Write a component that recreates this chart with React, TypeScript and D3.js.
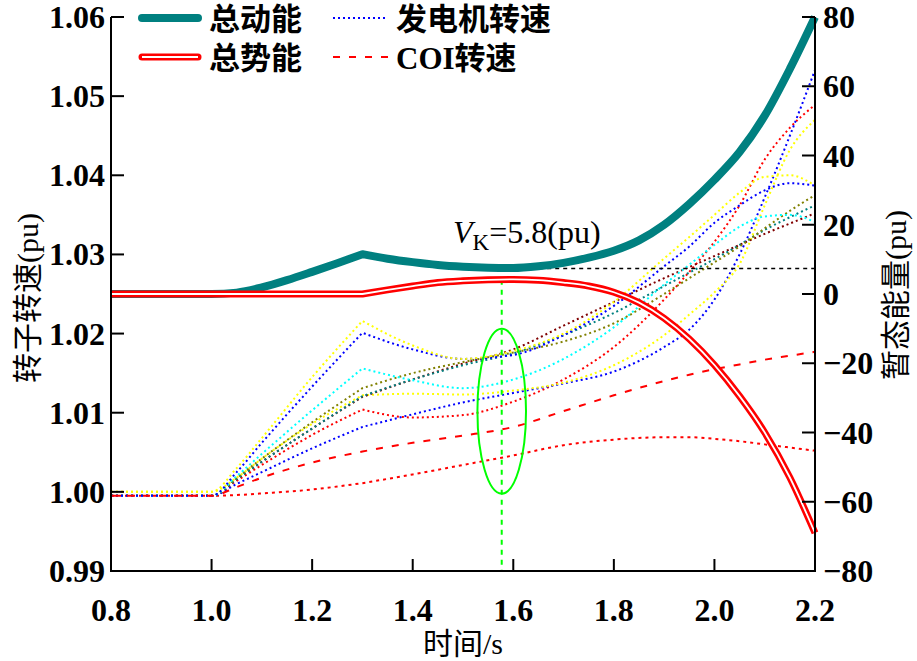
import * as d3 from 'd3'

// time grid (s) for generator speed curves
const tGen = [0.8, 1.0, 1.05, 1.1, 1.2, 1.3, 1.4, 1.5, 1.6, 1.7, 1.8, 1.9, 1.95, 2.0, 2.05, 2.1, 2.15, 2.2]

const yellowTop = [1.0, 1.0, 1.003, 1.0068, 1.0145, 1.0216, 1.0185, 1.0168, 1.0178, 1.02, 1.024, 1.0295, 1.0322, 1.035, 1.0378, 1.0398, 1.04, 1.0387]
const blueTop = [0.9995, 0.9995, 1.0025, 1.0062, 1.0133, 1.0201, 1.018, 1.0168, 1.0173, 1.0198, 1.0235, 1.0285, 1.031, 1.034, 1.0362, 1.0381, 1.039, 1.0387]
const cyan = [0.9995, 0.9995, 1.002, 1.0048, 1.0103, 1.0156, 1.0141, 1.0131, 1.0142, 1.0168, 1.0208, 1.0262, 1.0287, 1.0312, 1.0335, 1.0348, 1.035, 1.0341]
const olive = [0.9995, 0.9995, 1.0018, 1.0042, 1.0088, 1.0131, 1.015, 1.0164, 1.0176, 1.019, 1.0213, 1.025, 1.027, 1.029, 1.031, 1.0333, 1.0355, 1.0375]
const tealGen = [0.9995, 0.9995, 1.0016, 1.0038, 1.008, 1.0121, 1.0142, 1.016, 1.0175, 1.0198, 1.0226, 1.026, 1.0277, 1.0294, 1.0312, 1.0331, 1.0347, 1.0362]
const maroon = [0.9995, 0.9995, 1.0016, 1.0038, 1.008, 1.012, 1.0142, 1.0162, 1.018, 1.021, 1.024, 1.027, 1.0284, 1.0298, 1.0312, 1.0326, 1.0339, 1.0352]
const yellowLow = [1.0, 1.0, 1.0018, 1.0042, 1.0086, 1.0122, 1.0124, 1.0123, 1.0128, 1.0138, 1.016, 1.0198, 1.0224, 1.0252, 1.0288, 1.0362, 1.0432, 1.047]
const blueLow = [0.9995, 0.9995, 1.001, 1.0025, 1.0055, 1.0082, 1.0098, 1.0113, 1.0125, 1.0137, 1.0152, 1.0183, 1.0205, 1.0243, 1.03, 1.0372, 1.045, 1.0533]
const redUp = [0.9995, 0.9995, 1.0014, 1.0034, 1.0072, 1.0104, 1.0094, 1.0097, 1.0114, 1.0142, 1.0183, 1.0243, 1.0278, 1.0316, 1.0362, 1.042, 1.046, 1.0489]
const redLow = [0.9995, 0.9995, 0.9996, 0.9998, 1.0003, 1.0011, 1.0022, 1.0034, 1.0046, 1.0059, 1.0066, 1.0069, 1.0069, 1.0067, 1.0064, 1.006, 1.0056, 1.0052]
const coi = [0.9995, 0.9995, 1.0006, 1.0018, 1.0037, 1.0051, 1.0062, 1.0071, 1.0082, 1.0102, 1.0122, 1.014, 1.0148, 1.0155, 1.0161, 1.0167, 1.0172, 1.0177]

// energy curves (right axis)
const tE = [0.8, 1.0, 1.05, 1.1, 1.15, 1.2, 1.25, 1.3, 1.35, 1.4, 1.45, 1.5, 1.55, 1.6, 1.65, 1.7, 1.75, 1.8, 1.85, 1.9, 1.95, 2.0, 2.05, 2.1, 2.15, 2.2]
const kinetic = [0, 0, 0.4, 1.9, 4.0, 6.4, 8.9, 11.5, 10.2, 9.2, 8.4, 7.9, 7.6, 7.5, 8.0, 9.0, 10.5, 12.5, 15.5, 20, 26, 33, 41, 51.5, 65, 80]
const potential = [0, 0, 0, 0, 0, 0, 0, 0, 1.2, 2.3, 3.3, 3.8, 4.1, 4.2, 4.0, 3.3, 2.3, 0.5, -2.5, -7, -13, -20.5, -29.5, -40, -53, -69]

const xTicks = [0.8, 1.0, 1.2, 1.4, 1.6, 1.8, 2.0, 2.2]
const yTicks = [0.99, 1.0, 1.01, 1.02, 1.03, 1.04, 1.05, 1.06]
const eTicks = [-80, -60, -40, -20, 0, 20, 40, 60, 80]

// fault clearing at 1.3 s gives a kink in every curve
const tClear = 1.3
const tCrit = 1.577
const vK = 7.4

const font = "'Times New Roman', 'Liberation Serif', 'Noto Sans CJK SC', serif"

const genSeries = [
  { v: redLow, c: '#FF0000', d: '3 4' },
  { v: redUp, c: '#FF0000', d: '2 3' },
  { v: blueLow, c: '#0000FF', d: '2 3' },
  { v: yellowLow, c: '#FFFF00', d: '2 3' },
  { v: maroon, c: '#800000', d: '2 3' },
  { v: tealGen, c: '#008080', d: '2 3' },
  { v: olive, c: '#808000', d: '2 3' },
  { v: cyan, c: '#00FFFF', d: '2 3' },
  { v: blueTop, c: '#0000FF', d: '2 3' },
  { v: yellowTop, c: '#FFFF00', d: '2 3' },
]

export default function App() {
  const W = 917
  const H = 661
  const left = 111
  const right = 815
  const top = 17
  const bottom = 571

  const x = d3.scaleLinear().domain([0.8, 2.2]).range([left, right])
  const y = d3.scaleLinear().domain([0.99, 1.06]).range([bottom, top])
  const yE = d3.scaleLinear().domain([-80, 80]).range([bottom, top])

  // smooth on each side of the clearing time, with a corner at it
  const kinked = (ts: number[], vs: number[], sy: (v: number) => number) => {
    const k = ts.indexOf(tClear)
    const pts: [number, number][] = ts.map((t, i) => [x(t), sy(vs[i])])
    const gen = d3.line().curve(d3.curveMonotoneX)
    const a = gen(pts.slice(0, k + 1)) || ''
    const b = gen(pts.slice(k)) || ''
    return a + b.replace(/^M[^CL]*/, '')
  }

  const cx = x(tCrit)
  const ell = {
    cx,
    cy: y(1.0102),
    rx: x(0.8 + 0.0483) - x(0.8),
    ry: y(0.99) - y(0.99 + 0.01042),
  }
  const potAtCrit = 4.15

  return (
    <svg width={W} height={H} style={{ position: 'absolute', left: 0, top: 0, background: '#fff' }} fontFamily={font}>
      <rect width={W} height={H} fill="#fff" />

      {genSeries.map((s, i) => (
        <path key={i} d={kinked(tGen, s.v, y)} fill="none" stroke={s.c} strokeWidth={2} strokeDasharray={s.d} />
      ))}
      <path d={kinked(tGen, coi, y)} fill="none" stroke="#FF0000" strokeWidth={2} strokeDasharray="7 9" />

      {/* critical time marker */}
      <line x1={cx} x2={cx} y1={yE(potAtCrit)} y2={bottom} stroke="#00FF00" strokeWidth={2} strokeDasharray="5 5" />
      <ellipse cx={ell.cx} cy={ell.cy} rx={ell.rx} ry={ell.ry} fill="none" stroke="#00FF00" strokeWidth={2} />
      <line x1={x(1.572)} x2={right} y1={yE(vK)} y2={yE(vK)} stroke="#000" strokeWidth={1.5} strokeDasharray="4 4" />

      {/* energies */}
      <path d={kinked(tE, kinetic, yE)} fill="none" stroke="#008080" strokeWidth={8} strokeLinejoin="round" />
      <path d={kinked(tE, potential, yE)} fill="none" stroke="#FF0000" strokeWidth={7} strokeLinejoin="round" />
      <path d={kinked(tE, potential, yE)} fill="none" stroke="#fff" strokeWidth={1.8} strokeLinejoin="round" />

      <text x={453} y={243} fontSize={32}>
        <tspan fontStyle="italic">V</tspan>
        <tspan fontSize={23} dy={7}>K</tspan>
        <tspan dy={-7}>=5.8(pu)</tspan>
      </text>

      {/* axes */}
      <g stroke="#000" strokeWidth={2} fill="none">
        <line x1={left} x2={left} y1={top} y2={bottom} />
        <line x1={right} x2={right} y1={top} y2={bottom} />
        <line x1={left - 1} x2={right + 1} y1={bottom} y2={bottom} />
        {yTicks.map((t) => (
          <line key={t} x1={left} x2={left + 13} y1={y(t)} y2={y(t)} />
        ))}
        {eTicks.map((t) => (
          <line key={t} x1={right - 13} x2={right} y1={yE(t)} y2={yE(t)} />
        ))}
        {xTicks.map((t) => (
          <line key={t} x1={x(t)} x2={x(t)} y1={bottom} y2={bottom - 12} />
        ))}
      </g>
      <g fontSize={32} fontWeight="bold" fill="#000">
        {yTicks.map((t) => (
          <text key={t} x={left - 6} y={y(t) + 11} textAnchor="end">
            {t.toFixed(2)}
          </text>
        ))}
        {eTicks.map((t) => (
          <text key={t} x={823} y={yE(t) + 11} textAnchor="start">
            {t < 0 ? '\u2212' + Math.abs(t) : String(t)}
          </text>
        ))}
        {xTicks.map((t) => (
          <text key={t} x={x(t)} y={621} textAnchor="middle">
            {t.toFixed(1)}
          </text>
        ))}
      </g>

      <text x={(left + right) / 2} y={654} fontSize={30} textAnchor="middle">
        时间/s
      </text>
      <text transform={`translate(38,${298}) rotate(-90)`} fontSize={30} textAnchor="middle">
        转子转速(pu)
      </text>
      <text transform={`translate(906,${295}) rotate(-90)`} fontSize={30} textAnchor="middle">
        暂态能量(pu)
      </text>

      {/* legend */}
      <g>
        <line x1={142} x2={198} y1={18} y2={18} stroke="#008080" strokeWidth={8} strokeLinecap="round" />
        <line x1={142} x2={198} y1={57} y2={57} stroke="#FF0000" strokeWidth={7} strokeLinecap="round" />
        <line x1={142} x2={198} y1={57} y2={57} stroke="#fff" strokeWidth={1.8} />
        <line x1={333} x2={388} y1={18} y2={18} stroke="#0000FF" strokeWidth={2} strokeDasharray="2 3" />
        <line x1={333} x2={388} y1={57} y2={57} stroke="#FF0000" strokeWidth={2} strokeDasharray="7 9" />
        <g fontSize={31} fontWeight="bold">
          <text x={209} y={30}>总动能</text>
          <text x={209} y={69}>总势能</text>
          <text x={396} y={30}>发电机转速</text>
          <text x={396} y={69}>COI转速</text>
        </g>
      </g>
    </svg>
  )
}
